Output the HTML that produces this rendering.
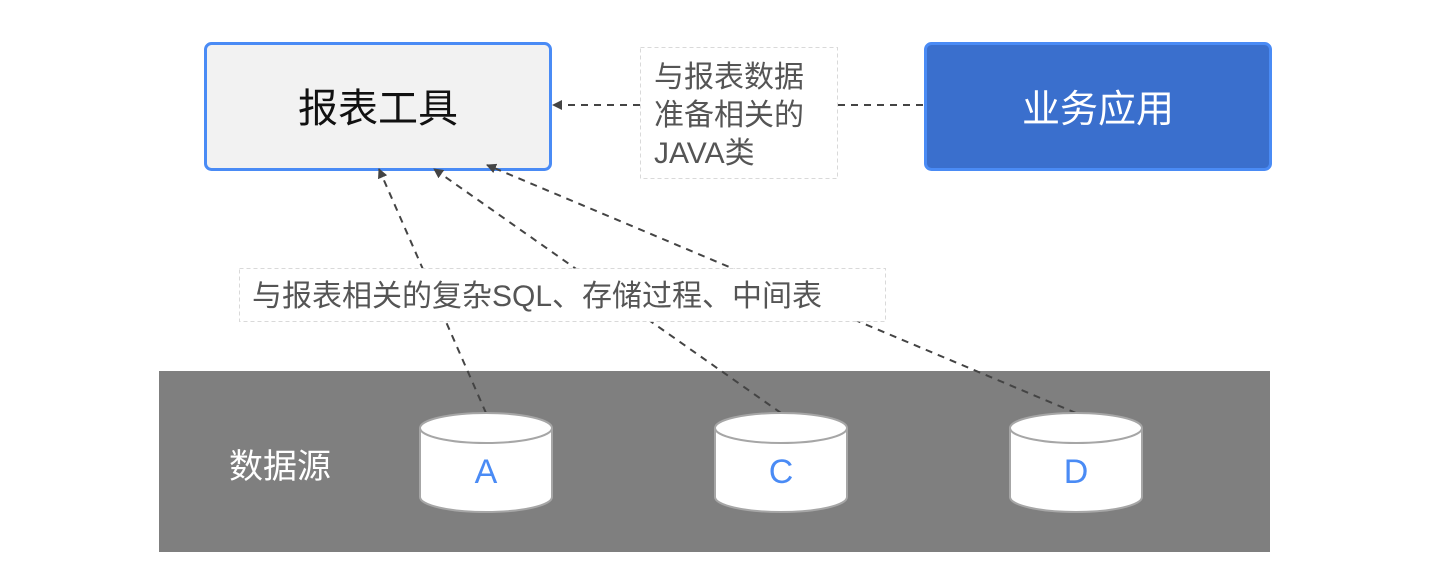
<!DOCTYPE html>
<html><head><meta charset="utf-8"><style>
body{margin:0;background:#fff;}
svg text{font-family:"Liberation Sans","Noto Sans CJK SC",sans-serif;}
</style></head><body>
<svg width="1442" height="577" viewBox="0 0 1442 577" xmlns="http://www.w3.org/2000/svg">
<defs><marker id="ar" markerWidth="10" markerHeight="10" refX="9" refY="5" orient="auto" markerUnits="userSpaceOnUse"><path d="M0,0 L10,5 L0,10 z" fill="#444"/></marker></defs>
<rect x="159" y="371" width="1111" height="181" fill="#7f7f7f"/>
<text x="280" y="478" font-size="34" fill="#fff" text-anchor="middle">数据源</text>
<rect x="205.5" y="43.5" width="345" height="126" rx="6" fill="#f2f2f2" stroke="#4a8bf5" stroke-width="3"/>
<text x="378" y="122" font-size="40" fill="#111" text-anchor="middle">报表工具</text>
<rect x="925.5" y="43.5" width="345" height="126" rx="6" fill="#3a6fcd" stroke="#4a8bf5" stroke-width="3"/>
<text x="1098" y="122" font-size="38" fill="#fff" text-anchor="middle">业务应用</text>
<rect x="640.5" y="47.5" width="197" height="131" fill="#fff" stroke="#d9d9d9" stroke-dasharray="4,3"/>
<text font-size="30" fill="#555"><tspan x="654" y="87">与报表数据</tspan><tspan x="654" y="125">准备相关的</tspan><tspan x="654" y="163">JAVA类</tspan></text>
<g stroke="#444" stroke-width="2" stroke-dasharray="7,6" fill="none">
<line x1="640" y1="105" x2="553" y2="105" marker-end="url(#ar)"/>
<line x1="923" y1="105" x2="838" y2="105"/>
<line x1="486" y1="413" x2="379" y2="169" marker-end="url(#ar)"/>
<line x1="781" y1="413" x2="434" y2="169" marker-end="url(#ar)"/>
<line x1="1076" y1="413" x2="487" y2="165" marker-end="url(#ar)"/>
</g>
<rect x="239.5" y="268.5" width="646" height="53" fill="#fff" stroke="#d9d9d9" stroke-dasharray="4,3"/>
<text x="252" y="306" font-size="30" fill="#555">与报表相关的复杂SQL、存储过程、中间表</text>
<g stroke="#a6a6a6" stroke-width="2" fill="#fff">
<path d="M420,428 L420,497 A66,15 0 0 0 552,497 L552,428"/>
<ellipse cx="486" cy="428" rx="66" ry="15"/>
<path d="M715,428 L715,497 A66,15 0 0 0 847,497 L847,428"/>
<ellipse cx="781" cy="428" rx="66" ry="15"/>
<path d="M1010,428 L1010,497 A66,15 0 0 0 1142,497 L1142,428"/>
<ellipse cx="1076" cy="428" rx="66" ry="15"/>
</g>
<g font-size="34" fill="#4a8bf5" text-anchor="middle">
<text x="486" y="483">A</text><text x="781" y="483">C</text><text x="1076" y="483">D</text>
</g>
</svg>
</body></html>
